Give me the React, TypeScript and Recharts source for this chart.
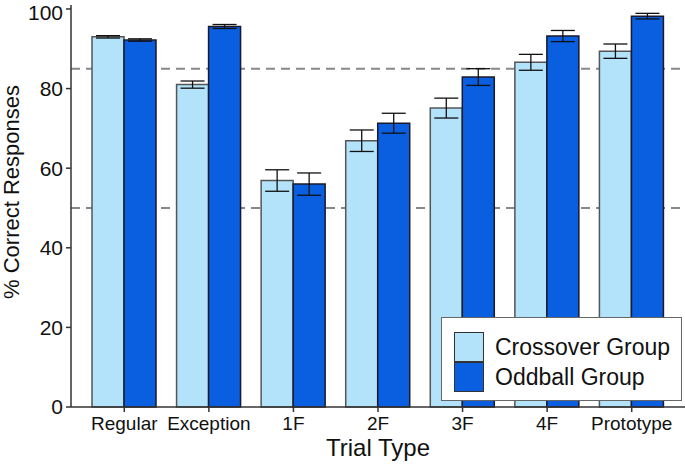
import React from "react";
import {
  BarChart,
  Bar,
  XAxis,
  YAxis,
  ErrorBar,
  CartesianGrid,
  Legend,
  Label,
} from "recharts";

const categories = ["Regular", "Exception", "1F", "2F", "3F", "4F", "Prototype"];
const crossover = [93.0, 81.0, 56.9, 66.9, 75.1, 86.6, 89.4];
const crossoverErr = [0.3, 0.9, 2.7, 2.7, 2.5, 2.0, 1.8];
const oddball = [92.2, 95.6, 56.0, 71.3, 82.9, 93.2, 98.2];
const oddballErr = [0.3, 0.5, 2.8, 2.5, 2.1, 1.4, 0.7];
const yTicks = [0, 20, 40, 60, 80, 100];
const chanceLines = [85, 50];

const data = categories.map((name, i) => ({
  name,
  crossover: crossover[i],
  crossoverErr: crossoverErr[i],
  oddball: oddball[i],
  oddballErr: oddballErr[i],
}));

const LIGHT = "#b3e2fb";
const DARK = "#0a5ee0";

const LegendBox = ({ payload }: any) => (
  <div
    style={{
      border: "1.5px solid #666",
      background: "#fff",
      width: 241,
      height: 84,
      boxSizing: "border-box",
      padding: "14px 0 0 12px",
    }}
  >
    {(payload || []).map((p: any) => (
      <div key={p.value} style={{ display: "flex", alignItems: "center", height: 30 }}>
        <div
          style={{
            width: 30,
            height: 30,
            boxSizing: "border-box",
            background: p.color,
            border: "1.5px solid #333",
          }}
        />
        <span style={{ marginLeft: 11, fontSize: 23, color: "#111", lineHeight: "30px" }}>
          {p.value}
        </span>
      </div>
    ))}
  </div>
);

export default function App() {
  return (
    <div
      style={{
        position: "absolute",
        left: 0,
        top: 0,
        width: 685,
        height: 464,
        background: "#fff",
        fontFamily: "'Liberation Sans', Arial, sans-serif",
      }}
    >
      <BarChart
        width={685}
        height={464}
        data={data}
        margin={{ top: 5, right: 0, bottom: 0, left: 0 }}
        barGap={0}
        barSize={32}
      >
        {/* dashed guide lines, drawn as grid so they stay behind the bars */}
        <CartesianGrid
          vertical={false}
          horizontalValues={chanceLines}
          stroke="#888"
          strokeWidth={2}
          strokeDasharray="9 6"
        />
        <XAxis
          dataKey="name"
          height={57}
          padding={{ left: 11, right: 11 }}
          stroke="#333"
          strokeWidth={1.5}
          tickSize={5}
          tickMargin={5}
          tick={{ fill: "#111", fontSize: 19 }}
          interval={0}
        >
          <Label
            value="Trial Type"
            position="insideBottom"
            offset={8}
            style={{ fontSize: 24, fill: "#111" }}
          />
        </XAxis>
        <YAxis
          domain={[0, 101]}
          ticks={yTicks}
          width={71}
          stroke="#333"
          strokeWidth={1.5}
          tickSize={5}
          tickMargin={3}
          tick={{ fill: "#111", fontSize: 21 }}
        >
          <Label
            content={() => (
              <text
                x={19}
                y={192}
                transform="rotate(-90 19 192)"
                textAnchor="middle"
                fontSize={22}
                fill="#111"
              >
                % Correct Responses
              </text>
            )}
          />
        </YAxis>
        <Legend
          layout="horizontal"
          verticalAlign="middle"
          align="center"
          content={<LegendBox />}
          wrapperStyle={{ position: "absolute", left: 441, top: 317, width: 241 }}
        />
        <Bar
          dataKey="crossover"
          name="Crossover Group"
          fill={LIGHT}
          stroke="#555"
          strokeWidth={1.5}
          isAnimationActive={false}
        >
          <ErrorBar dataKey="crossoverErr" width={12} stroke="#111" strokeWidth={1.3} direction="y" />
        </Bar>
        <Bar
          dataKey="oddball"
          name="Oddball Group"
          fill={DARK}
          stroke="#1a1a2a"
          strokeWidth={1.5}
          isAnimationActive={false}
        >
          <ErrorBar dataKey="oddballErr" width={12} stroke="#111" strokeWidth={1.3} direction="y" />
        </Bar>
      </BarChart>
    </div>
  );
}
